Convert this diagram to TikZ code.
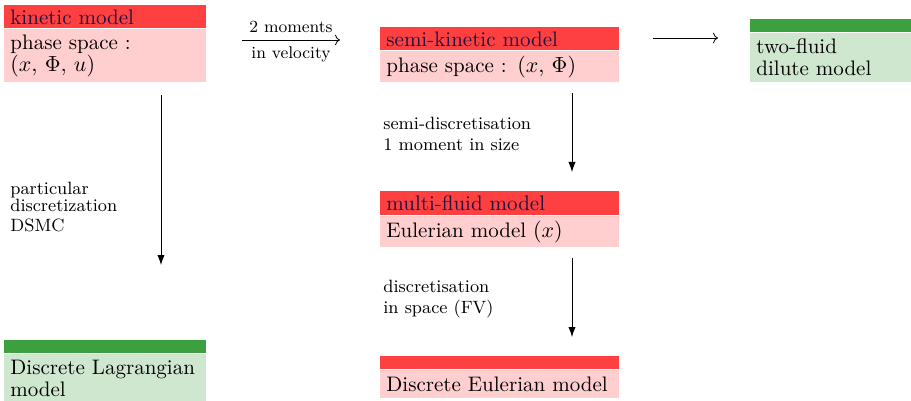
\documentclass[tikz,border=0pt]{standalone}
\usetikzlibrary{positioning,arrows.meta}
\definecolor{redbar}{RGB}{255,64,64}
\definecolor{pinkbody}{RGB}{255,207,207}
\definecolor{greenbar}{RGB}{61,160,64}
\definecolor{greenbody}{RGB}{207,230,207}
\definecolor{titleblue}{RGB}{28,18,66}
\tikzset{
  redtitle/.style={fill=redbar, text=titleblue, anchor=north west, align=left,
    minimum height=11.5pt, inner xsep=3pt, inner ysep=0pt, font=\fontsize{10.5}{11}\selectfont},
  redbody/.style={fill=pinkbody, align=left, inner xsep=3pt, inner ysep=0pt,
    font=\fontsize{10.5}{11}\selectfont},
  greentitle/.style={fill=greenbar, anchor=north west, minimum height=6.5pt, inner sep=0pt},
  greenbody/.style={fill=greenbody, align=left, inner xsep=3pt, inner ysep=0pt,
    font=\fontsize{10.5}{11}\selectfont},
  narrow/.style={text width=95pt},
  wide/.style={text width=113.5pt},
  side/.style={text width=74.5pt},
  note/.style={anchor=north west, align=left, inner sep=0pt, font=\fontsize{8.9}{8.5}\selectfont},
  move/.style={-{Latex[length=5pt,width=3.6pt]}},
}
\begin{document}
\begin{tikzpicture}[x=0.5pt,y=-0.5pt]
  \useasboundingbox (0,0) rectangle (911,401);
  % top row
  \node[redtitle, narrow] (kintitle) at (4,5) {kinetic model};
  \node[redbody, narrow, minimum height=26.5pt, below=0pt of kintitle] (kinbody)
    {phase space :\\$(x,\,\Phi,\,u)$};
  \node[redtitle, wide] (semititle) at (380,27) {semi-kinetic model};
  \node[redbody, wide, minimum height=15.5pt, below=0pt of semititle] (semibody)
    {phase space : $(x,\,\Phi)$};
  \node[greentitle, minimum width=80.5pt] (twotitle) at (750,19) {};
  \node[greenbody, side, minimum height=24.5pt, below=0pt of twotitle] (twobody)
    {two-fluid\\dilute model};
  % middle and bottom
  \node[redtitle, wide, minimum height=12pt] (multititle) at (380,191) {multi-fluid model};
  \node[redbody, wide, minimum height=15.5pt, below=0pt of multititle] (multibody)
    {Eulerian model $(x)$};
  \node[greentitle, minimum width=101pt] (lagtitle) at (4,340) {};
  \node[greenbody, narrow, minimum height=24pt, below=0pt of lagtitle] (lagbody)
    {Discrete Lagrangian\\model};
  \node[greentitle, fill=redbar, minimum width=119.5pt] (eultitle) at (380,356) {};
  \node[redbody, wide, minimum height=14pt, below=0pt of eultitle] (eulbody)
    {Discrete Eulerian model};
  % arrow ends
  \coordinate (velA) at (242,40);
  \coordinate (velB) at (340,40);
  \coordinate (dilA) at (653,38);
  \coordinate (dilB) at (718,38);
  \coordinate (lagA) at (161,95);
  \coordinate (lagB) at (161,265);
  \coordinate (sizeA) at (572,93);
  \coordinate (sizeB) at (572,172);
  \coordinate (spaceA) at (572,258);
  \coordinate (spaceB) at (572,337);
  \draw[->] (velA) -- node[above, font=\fontsize{8.5}{8.5}\selectfont] (velup) {2 moments}
    node[below, font=\fontsize{8.5}{8.5}\selectfont] (veldown) {in velocity} (velB);
  \draw[->] (dilA) -- (dilB);
  \draw[move] (lagA) -- (lagB);
  \draw[move] (sizeA) -- (sizeB);
  \draw[move] (spaceA) -- (spaceB);
  % labels
  \node[note] (lagnote) at (10,182) {particular\\discretization\\[1.5pt]DSMC};
  \node[note] (sizenote) at (383,117) {semi-discretisation\\[2pt]1 moment in size};
  \node[note] (spacenote) at (383,280) {discretisation\\[2pt]in space (FV)};
\end{tikzpicture}
\end{document}
